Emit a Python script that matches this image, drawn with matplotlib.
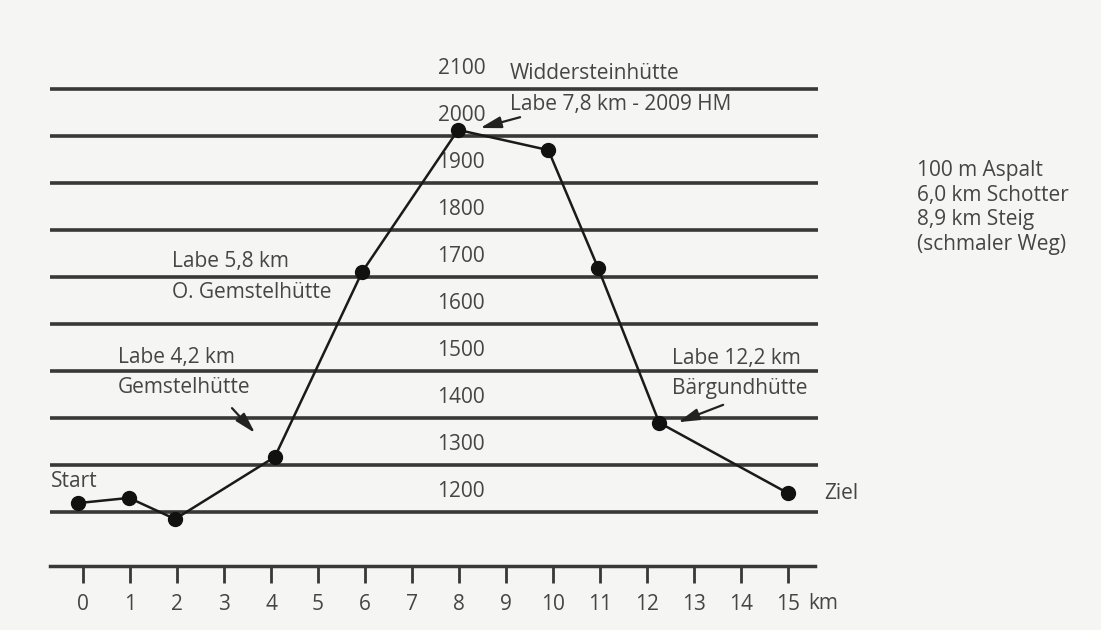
import matplotlib.pyplot as plt

# elevation profile
km = [-0.1, 0.98, 1.96, 4.08, 5.94, 7.98, 9.9, 10.96, 12.26, 15.0]
hm = [1219, 1230, 1185, 1317, 1711, 2013, 1970, 1719, 1390, 1240]

levels = [1200, 1300, 1400, 1500, 1600, 1700, 1800, 1900, 2000, 2100]
km_ticks = list(range(0, 16))

txt = '#454545'
ink = '#383838'
fs = 15
plt.rcParams['font.family'] = ['Open Sans', 'DejaVu Sans']

fig = plt.figure(figsize=(11.01, 6.30), dpi=100, facecolor='#f5f5f3')
# axes placed so that the bottom spine is the km scale
ax = fig.add_axes([50 / 1101, 1 - 566 / 630, 765 / 1101, 546 / 630])
ax.set_facecolor('none')
ax.set_xlim(-0.702, 15.574)
ax.set_ylim(1085.1, 2246.8)

for s in ['top', 'left', 'right']:
    ax.spines[s].set_visible(False)
ax.spines['bottom'].set_color(ink)
ax.spines['bottom'].set_linewidth(2.5)

ax.set_xticks(km_ticks)
ax.set_xticklabels([str(k) for k in km_ticks])
ax.tick_params(axis='x', direction='out', length=12, width=2, color=ink,
               labelsize=fs, labelcolor=txt, pad=8)
ax.set_yticks([])
ax.text(15.42, 1085.1 - 79, 'km', fontsize=fs, color=txt, ha='left', va='center')

# horizontal guide lines with height labels above them
ax.hlines(levels, -0.702, 15.64, color=ink, lw=2.6, clip_on=False)
for lv in levels:
    ax.text(8.05, lv + 43, str(lv), fontsize=fs, color=txt, ha='center', va='center')

# profile
ax.plot(km, hm, color='#1a1a1a', lw=1.8, marker='o', ms=10, mfc='#111111', mec='#111111',
        clip_on=False, zorder=5)

# labels
ax.text(-0.68, 1265, 'Start', fontsize=fs, color=txt, ha='left', va='center')
ax.text(15.78, 1240, 'Ziel', fontsize=fs, color=txt, ha='left', va='center')

ax.text(0.745, 1497, 'Labe 4,2 km\nGemstelhütte', fontsize=fs, color=txt,
        ha='left', va='center', linespacing=1.6)
ax.text(1.89, 1700, 'Labe 5,8 km\nO. Gemstelhütte', fontsize=fs, color=txt,
        ha='left', va='center', linespacing=1.6)
ax.text(9.08, 2100, 'Widdersteinhütte\nLabe 7,8 km - 2009 HM', fontsize=fs, color=txt,
        ha='left', va='center', linespacing=1.6)
ax.text(12.53, 1495, 'Labe 12,2 km\nBärgundhütte', fontsize=fs, color=txt,
        ha='left', va='center', linespacing=1.6)

# small arrows pointing at the huts
arrows = [((3.17, 1421), (3.66, 1368)),
          ((9.3, 2040), (8.45, 2017)),
          ((13.62, 1428), (12.66, 1391))]
for start, end in arrows:
    ax.annotate('', xy=end, xytext=start,
                arrowprops=dict(arrowstyle='-|>,head_length=0.9,head_width=0.25',
                                color='#222222', lw=1.6, mutation_scale=14,
                                shrinkA=0, shrinkB=0))

fig.text(917 / 1101, 1 - 160 / 630, '100 m Aspalt\n6,0 km Schotter\n8,9 km Steig\n(schmaler Weg)',
         fontsize=fs, color=txt, ha='left', va='top', linespacing=1.22)

fig.savefig('out.png', dpi=100, facecolor=fig.get_facecolor())
